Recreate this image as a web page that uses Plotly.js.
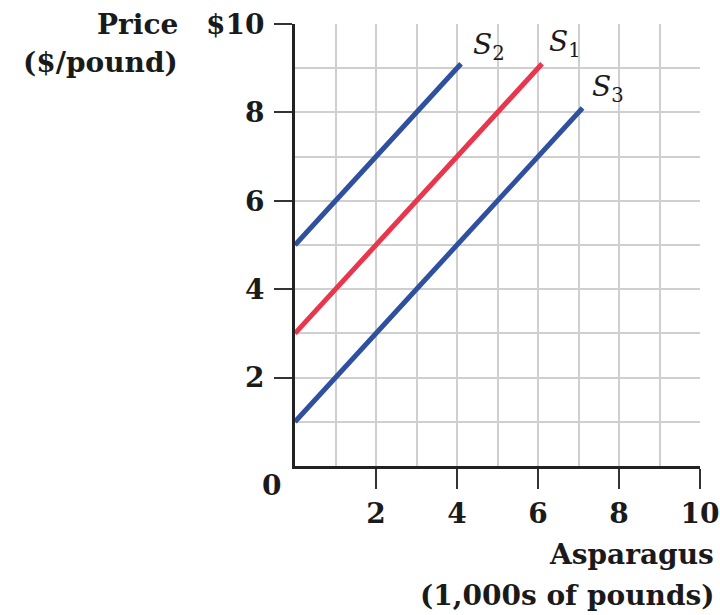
<!DOCTYPE html>
<html>
<head>
<meta charset="utf-8">
<script src="https://cdn.plot.ly/plotly-3.0.1.min.js"></script>
<style>
  html, body { margin: 0; padding: 0; background: #fff; }
  #chart { width: 720px; height: 615px; }
</style>
</head>
<body>
<div id="chart"></div>
<script>
// supply curves (quantity in 1,000s of pounds, price in $/pound)
const s1Qty = [0, 6.1];
const s1Price = [3, 9.1];
const s2Qty = [0, 4.1];
const s2Price = [5, 9.1];
const s3Qty = [0, 7.1];
const s3Price = [1, 8.1];

const xTickVals = [2, 4, 6, 8, 10];
const xTickText = ["2", "4", "6", "8", "10"];
const yTickVals = [2, 4, 6, 8, 10];
const yTickText = ["2", "4", "6", "8", "$10"];

const curveLabels = [
    { text: "<i>S</i><sub>2</sub>", x: 4.78, y: 9.5 },
    { text: "<i>S</i><sub>1</sub>", x: 6.66, y: 9.57 },
    { text: "<i>S</i><sub>3</sub>", x: 7.74, y: 8.55 },
];

const BLUE = "#2f4f9f";
const RED = "#e8364d";
const GRID = "#cfcfcf";
const serifBold = { family: "DejaVu Serif", size: 28, color: "#1a1a1a", weight: "bold" };

function line(x, y, color) {
    return {
        x: x,
        y: y,
        type: "scatter",
        mode: "lines",
        line: { color: color, width: 5 },
        hoverinfo: "skip",
        showlegend: false,
    };
}

const data = [
    line(s2Qty, s2Price, BLUE),
    line(s1Qty, s1Price, RED),
    line(s3Qty, s3Price, BLUE),
];

const annotations = curveLabels.map((c) => ({
    text: c.text,
    x: c.x,
    y: c.y,
    xref: "x",
    yref: "y",
    showarrow: false,
    font: { family: "DejaVu Serif", size: 28, color: "#1a1a1a", weight: "normal" },
}));

// axis titles and corner zero
annotations.push(
    { text: "Price", xref: "paper", yref: "paper", x: -0.284, y: 1.0, xanchor: "right", yanchor: "middle", showarrow: false, font: serifBold },
    { text: "($/pound)", xref: "paper", yref: "paper", x: -0.284, y: 0.912, xanchor: "right", yanchor: "middle", showarrow: false, font: serifBold },
    { text: "Asparagus", xref: "paper", yref: "paper", x: 1.04, y: -0.201, xanchor: "right", yanchor: "middle", showarrow: false, font: serifBold },
    { text: "(1,000s of pounds)", xref: "paper", yref: "paper", x: 1.04, y: -0.292, xanchor: "right", yanchor: "middle", showarrow: false, font: serifBold },
    { text: "0", xref: "paper", yref: "paper", x: -0.057, y: -0.043, xanchor: "center", yanchor: "middle", showarrow: false, font: serifBold }
);

const layout = {
    width: 720,
    height: 615,
    margin: { l: 295, r: 20, t: 24, b: 149 },
    paper_bgcolor: "#fff",
    plot_bgcolor: "#fff",
    font: serifBold,
    xaxis: {
        range: [0, 10],
        tickvals: xTickVals,
        ticktext: xTickText,
        ticks: "outside",
        ticklen: 20,
        tickwidth: 2,
        tickcolor: "#333",
        showgrid: true,
        gridcolor: GRID,
        gridwidth: 2,
        minor: { dtick: 1, tick0: 0, showgrid: true, gridcolor: GRID, gridwidth: 2 },
        showline: true,
        linecolor: "#222",
        linewidth: 3,
        zeroline: false,
        tickfont: serifBold,
        fixedrange: true,
    },
    yaxis: {
        range: [0, 10],
        tickvals: yTickVals,
        ticktext: yTickText,
        ticks: "outside",
        ticklen: 18,
        tickwidth: 2,
        tickcolor: "#333",
        ticklabelstandoff: 4,
        showgrid: true,
        gridcolor: GRID,
        gridwidth: 2,
        minor: { dtick: 1, tick0: 0, showgrid: true, gridcolor: GRID, gridwidth: 2 },
        showline: true,
        linecolor: "#222",
        linewidth: 3,
        zeroline: false,
        tickfont: serifBold,
        fixedrange: true,
    },
    annotations: annotations,
};

Plotly.newPlot("chart", data, layout, { displayModeBar: false, staticPlot: true });
</script>
</body>
</html>
